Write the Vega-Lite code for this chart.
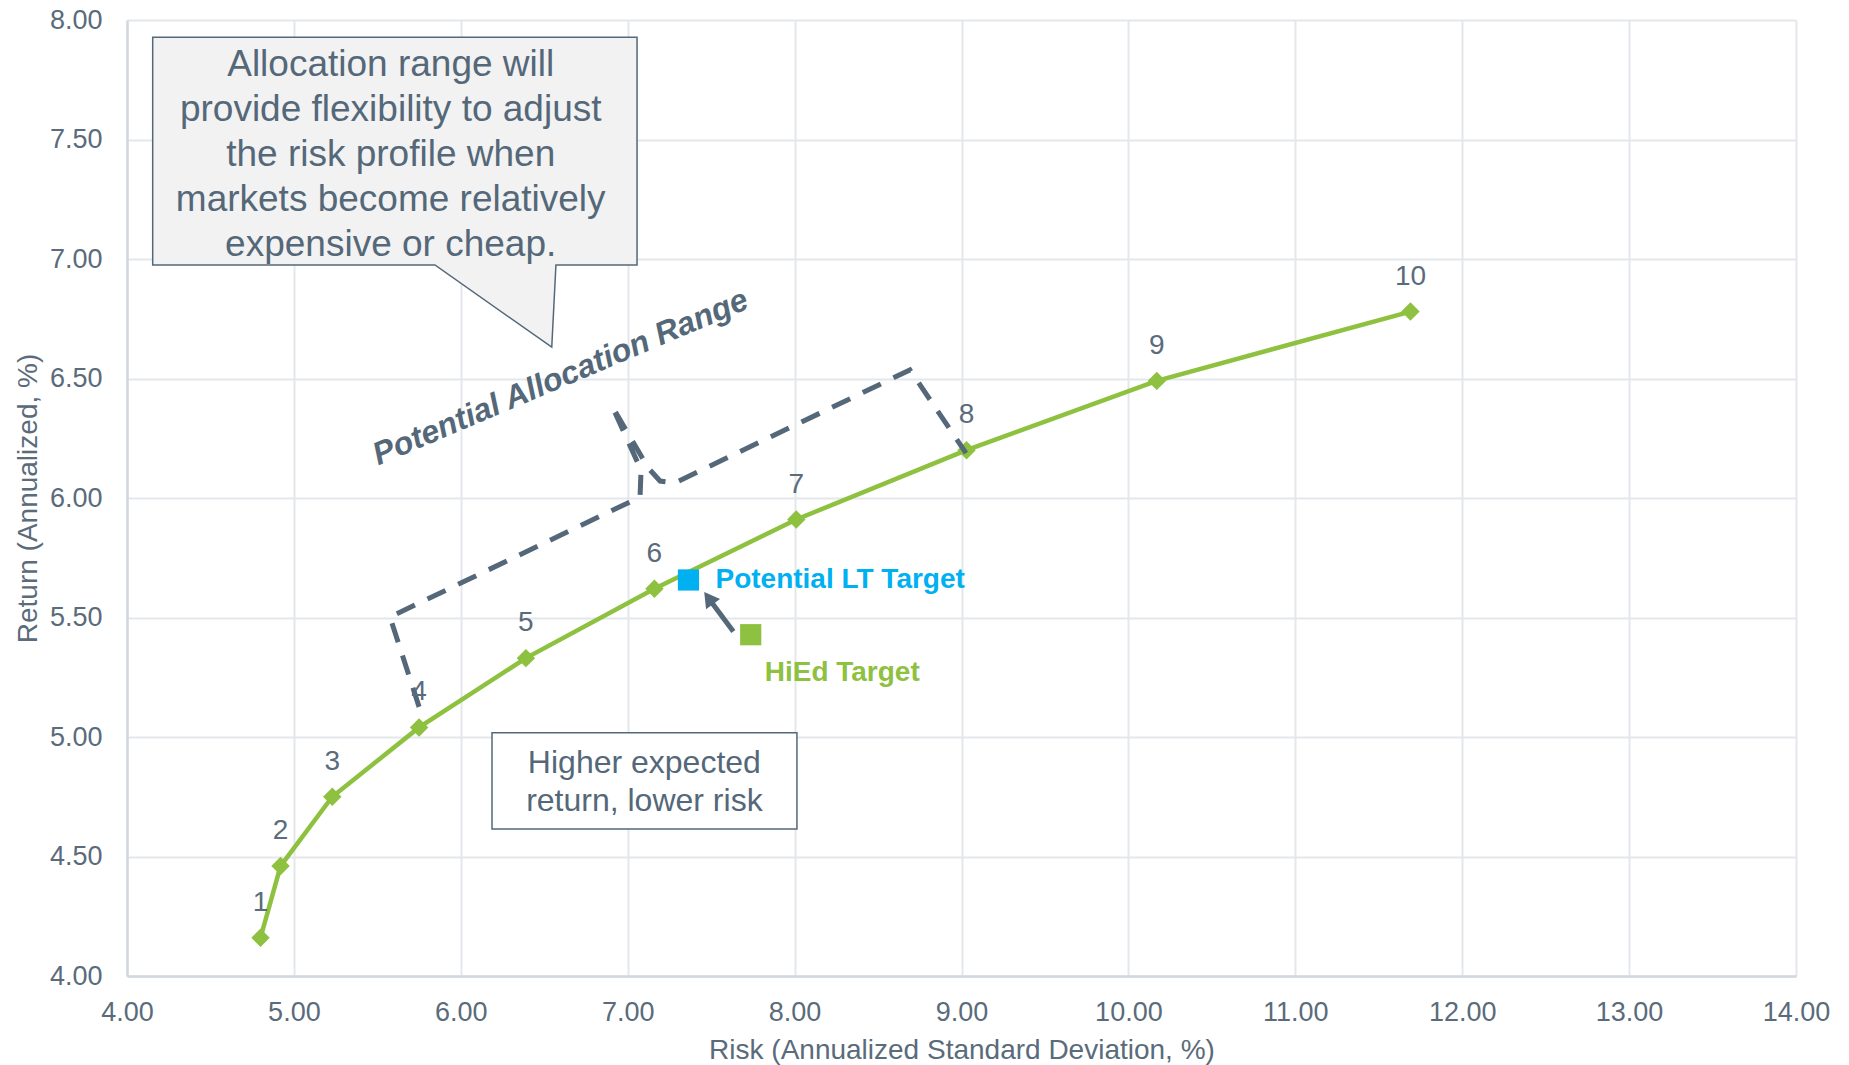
{
  "$schema": "https://vega.github.io/schema/vega-lite/v6.json",
  "width": 1669,
  "height": 956,
  "autosize": {"type": "none"},
  "padding": {"left": 127, "top": 20, "right": 53, "bottom": 89},
  "background": "white",
  "config": {
    "font": "Liberation Sans",
    "view": {"stroke": null},
    "axis": {
      "ticks": false,
      "grid": true,
      "gridColor": "#e3e7eb",
      "gridWidth": 2,
      "domainColor": "#d2d8de",
      "domainWidth": 2.5,
      "labelColor": "#5a6b7b",
      "titleColor": "#5a6b7b",
      "labelFontSize": 27,
      "titleFontSize": 28,
      "titleFontWeight": "normal",
      "labelFlush": false,
      "labelOverlap": false
    }
  },
  "datasets": {
    "frontier": [
      {"risk": 4.80, "ret": 4.16, "label": "1"},
      {"risk": 4.92, "ret": 4.46, "label": "2"},
      {"risk": 5.23, "ret": 4.75, "label": "3"},
      {"risk": 5.75, "ret": 5.04, "label": "4"},
      {"risk": 6.39, "ret": 5.33, "label": "5"},
      {"risk": 7.16, "ret": 5.62, "label": "6"},
      {"risk": 8.01, "ret": 5.91, "label": "7"},
      {"risk": 9.03, "ret": 6.20, "label": "8"},
      {"risk": 10.17, "ret": 6.49, "label": "9"},
      {"risk": 11.69, "ret": 6.78, "label": "10"}
    ],
    "targets": [
      {"name": "Potential LT Target", "risk": 7.364, "ret": 5.657},
      {"name": "HiEd Target", "risk": 7.737, "ret": 5.428}
    ],
    "bracket": [
      {"i": 0, "risk": 5.750, "ret": 5.126},
      {"i": 1, "risk": 5.576, "ret": 5.502},
      {"i": 2, "risk": 7.074, "ret": 6.004},
      {"i": 3, "risk": 7.080, "ret": 6.117},
      {"i": 4, "risk": 6.906, "ret": 6.385},
      {"i": 5, "risk": 7.122, "ret": 6.126},
      {"i": 6, "risk": 7.194, "ret": 6.071},
      {"i": 7, "risk": 7.283, "ret": 6.063},
      {"i": 8, "risk": 8.691, "ret": 6.536},
      {"i": 9, "risk": 9.027, "ret": 6.188}
    ],
    "callout": [
      {"i": 0, "risk": 4.154, "ret": 7.928},
      {"i": 1, "risk": 7.056, "ret": 7.928},
      {"i": 2, "risk": 7.056, "ret": 6.975},
      {"i": 3, "risk": 6.570, "ret": 6.975},
      {"i": 4, "risk": 6.545, "ret": 6.631},
      {"i": 5, "risk": 5.845, "ret": 6.975},
      {"i": 6, "risk": 4.154, "ret": 6.975}
    ]
  },
  "encoding": {
    "x": {
      "field": "risk",
      "type": "quantitative",
      "scale": {"domain": [4, 14], "nice": false, "zero": false},
      "axis": {
        "title": "Risk (Annualized Standard Deviation, %)",
        "values": [4, 5, 6, 7, 8, 9, 10, 11, 12, 13, 14],
        "format": ".2f",
        "labelPadding": 23,
        "titlePadding": 11
      }
    },
    "y": {
      "field": "ret",
      "type": "quantitative",
      "scale": {"domain": [4, 8], "nice": false, "zero": false},
      "axis": {
        "title": "Return (Annualized, %)",
        "values": [4, 4.5, 5, 5.5, 6, 6.5, 7, 7.5, 8],
        "format": ".2f",
        "labelPadding": 25,
        "titlePadding": 7
      }
    }
  },
  "layer": [
    {
      "data": {"name": "callout"},
      "mark": {"type": "line", "interpolate": "linear-closed", "fill": "#f2f2f2", "stroke": "#546879", "strokeWidth": 1.5},
      "encoding": {"order": {"field": "i", "type": "quantitative"}}
    },
    {
      "data": {"values": [{"risk": 5.58, "ret": 7.766, "t": "Allocation range will\nprovide flexibility to adjust\nthe risk profile when\nmarkets become relatively\nexpensive or cheap."}]},
      "mark": {"type": "text", "lineBreak": "\n", "lineHeight": 45, "fontSize": 37, "align": "center", "baseline": "alphabetic", "color": "#546879"},
      "encoding": {"text": {"field": "t"}}
    },
    {
      "data": {"values": [{"risk": 6.187, "risk2": 8.014, "ret": 5.018, "ret2": 4.615}]},
      "mark": {"type": "rect", "fill": "white", "stroke": "#546879", "strokeWidth": 1.5},
      "encoding": {"x2": {"field": "risk2"}, "y2": {"field": "ret2"}}
    },
    {
      "data": {"values": [{"risk": 7.10, "ret": 4.848, "t": "Higher expected\nreturn, lower risk"}]},
      "mark": {"type": "text", "lineBreak": "\n", "lineHeight": 37.3, "fontSize": 32, "align": "center", "baseline": "alphabetic", "color": "#546879"},
      "encoding": {"text": {"field": "t"}}
    },
    {
      "data": {"name": "frontier"},
      "mark": {"type": "line", "color": "#8dc13f", "strokeWidth": 4.5}
    },
    {
      "data": {"name": "frontier"},
      "mark": {"type": "point", "shape": "diamond", "size": 340, "filled": true, "opacity": 1, "color": "#8dc13f"}
    },
    {
      "data": {"name": "bracket"},
      "mark": {"type": "line", "color": "#546879", "strokeWidth": 5, "strokeDash": [20, 14]},
      "encoding": {"order": {"field": "i", "type": "quantitative"}}
    },
    {
      "data": {"values": [{"risk": 6.62, "ret": 6.466, "t": "Potential Allocation Range"}]},
      "mark": {"type": "text", "angle": 337, "fontSize": 32, "fontWeight": "bold", "fontStyle": "italic", "align": "center", "baseline": "alphabetic", "color": "#546879"},
      "encoding": {"text": {"field": "t"}}
    },
    {
      "data": {"name": "frontier"},
      "mark": {"type": "text", "dy": -35, "fontSize": 28, "align": "center", "baseline": "middle", "color": "#5a6b7b"},
      "encoding": {"text": {"field": "label"}}
    },
    {
      "data": {"values": [{"risk": 7.633, "ret": 5.441, "risk2": 7.49, "ret2": 5.575}]},
      "mark": {"type": "rule", "color": "#546879", "strokeWidth": 5},
      "encoding": {"x2": {"field": "risk2"}, "y2": {"field": "ret2"}}
    },
    {
      "data": {"values": [{"risk": 7.485, "ret": 5.581}]},
      "mark": {"type": "point", "shape": "triangle-up", "size": 300, "angle": 324, "filled": true, "opacity": 1, "color": "#546879"}
    },
    {
      "data": {"name": "targets"},
      "mark": {"type": "point", "shape": "square", "size": 450, "filled": true, "opacity": 1},
      "encoding": {
        "color": {"field": "name", "type": "nominal", "scale": {"domain": ["Potential LT Target", "HiEd Target"], "range": ["#00b0f0", "#8dc13f"]}, "legend": null}
      }
    },
    {
      "data": {"name": "targets"},
      "transform": [{"filter": "datum.name == 'Potential LT Target'"}],
      "mark": {"type": "text", "dx": 27, "fontSize": 28, "fontWeight": "bold", "align": "left", "baseline": "middle", "color": "#00b0f0"},
      "encoding": {"text": {"field": "name"}}
    },
    {
      "data": {"name": "targets"},
      "transform": [{"filter": "datum.name == 'HiEd Target'"}],
      "mark": {"type": "text", "dx": 14, "dy": 38, "fontSize": 28, "fontWeight": "bold", "align": "left", "baseline": "middle", "color": "#8dc13f"},
      "encoding": {"text": {"field": "name"}}
    }
  ]
}
